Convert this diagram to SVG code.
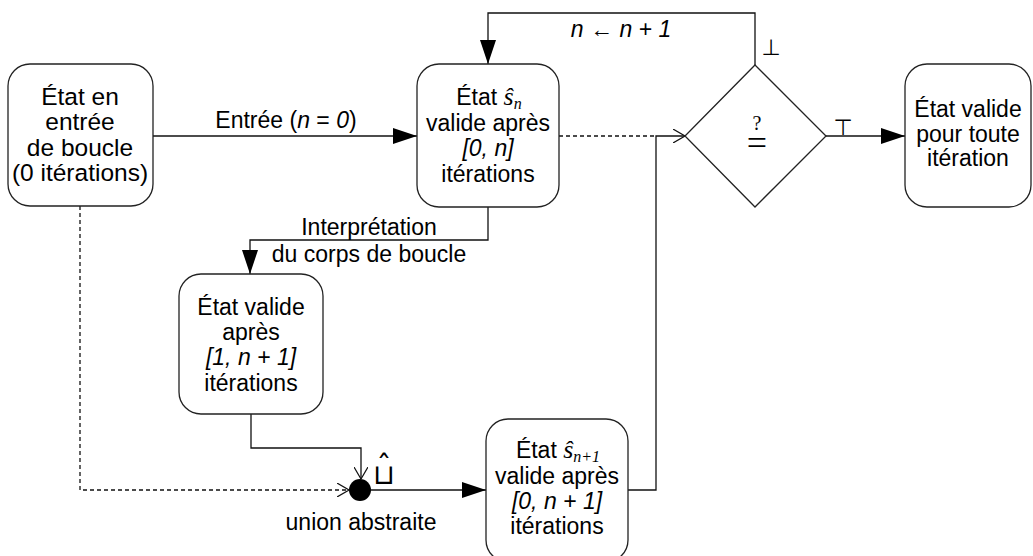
<svg xmlns="http://www.w3.org/2000/svg" width="1033" height="556" viewBox="0 0 1033 556">
<style>
.box{fill:#fff;stroke:#222;stroke-width:1.3}
.t{font-family:"Liberation Sans",Arial,sans-serif;font-size:23px;fill:#000;text-anchor:middle}
.big{font-size:24.5px}
.it{font-style:italic}
.m{font-family:"Liberation Serif","Times New Roman",serif;font-style:italic;font-size:26px}
.sub{font-family:"Liberation Serif","Times New Roman",serif;font-style:italic;font-size:16px}
.ln{fill:none;stroke:#111;stroke-width:1.3}
.dash{fill:none;stroke:#111;stroke-width:1.3;stroke-dasharray:4 3}
.sym{font-family:"DejaVu Sans",sans-serif;fill:#000;text-anchor:middle}
</style>
<defs>
<marker id="fa" viewBox="0 0 24 16" refX="24" refY="8" markerWidth="24" markerHeight="16" markerUnits="userSpaceOnUse" orient="auto">
<path d="M0,0 L24,8 L0,16 Z" fill="#000"/>
</marker>
<marker id="oa" viewBox="0 0 12 14" refX="12" refY="7" markerWidth="12" markerHeight="14" markerUnits="userSpaceOnUse" orient="auto">
<path d="M0,0 L12,7 L0,14" fill="none" stroke="#111" stroke-width="1.2"/>
</marker>
</defs>

<g id="connectors">
<path class="ln" d="M152,136 H417" marker-end="url(#fa)"/>
<path class="dash" d="M559,136 H656"/>
<path class="ln" d="M627,490 H656 V136 H685" marker-end="url(#oa)"/>
<path class="ln" d="M755,65 V13 H488 V64" marker-end="url(#fa)"/>
<path class="ln" d="M826,136 H905" marker-end="url(#fa)"/>
<path class="ln" d="M488,207 V240 H250 V274" marker-end="url(#fa)"/>
<path class="ln" d="M251,414 V448 H361 V479" marker-end="url(#oa)"/>
<path class="dash" d="M80,206 V490 H349" marker-end="url(#oa)"/>
<path class="ln" d="M371,490 H486" marker-end="url(#fa)"/>
<text class="t" x="286" y="128">Entrée (<tspan class="it">n</tspan> = <tspan class="it">0</tspan>)</text>
<text class="t it" x="621" y="37" font-size="22">n ← n + 1</text>
<text class="t" x="369" y="235">Interprétation</text>
<text class="t" x="369" y="262">du corps de boucle</text>
<text class="sym" x="771" y="55" font-size="22">⊥</text>
<text class="sym" x="843" y="135" font-size="22">⊤</text>
</g>

<g id="n1">
<rect class="box" x="8" y="64" width="145" height="142" rx="22"/>
<text class="t big" x="80" y="105">État en</text>
<text class="t big" x="80" y="130">entrée</text>
<text class="t big" x="80" y="156">de boucle</text>
<text class="t big" x="80" y="181">(0 itérations)</text>
</g>

<g id="n2">
<rect class="box" x="417" y="64" width="142" height="143" rx="22"/>
<text class="t" x="489" y="105">État <tspan class="m">ŝ</tspan><tspan class="sub" dy="4">n</tspan></text>
<text class="t" x="488" y="131">valide après</text>
<text class="t it" x="488" y="156">[0, n]</text>
<text class="t" x="488" y="182">itérations</text>
</g>

<g id="decision">
<path class="box" d="M755,65 L826,136 L755,207 L685,136 Z"/>
<text x="757" y="130" font-family="Liberation Serif, serif" font-size="20" text-anchor="middle">?</text>
<text x="757" y="155" font-family="Liberation Serif, serif" font-size="36" text-anchor="middle">=</text>
</g>

<g id="n4">
<rect class="box" x="905" y="64" width="126" height="143" rx="22"/>
<text class="t" x="968" y="117">État valide</text>
<text class="t" x="968" y="142">pour toute</text>
<text class="t" x="968" y="166">itération</text>
</g>

<g id="n3">
<rect class="box" x="179" y="274" width="144" height="140" rx="22"/>
<text class="t" x="251" y="315">État valide</text>
<text class="t" x="251" y="340">après</text>
<text class="t it" x="251" y="365">[1, n + 1]</text>
<text class="t" x="251" y="391">itérations</text>
</g>

<g id="union">
<circle cx="360" cy="490" r="11" fill="#000"/>
<text class="sym" x="384" y="484" font-size="28">⊔</text>
<text class="sym" x="384" y="477" font-size="30">ˆ</text>
<text class="t" x="361" y="530">union abstraite</text>
</g>

<g id="n5">
<rect class="box" x="486" y="419" width="142" height="143" rx="22"/>
<text class="t" x="558" y="458">État <tspan class="m">ŝ</tspan><tspan class="sub" dy="4">n+1</tspan></text>
<text class="t" x="557" y="484">valide après</text>
<text class="t it" x="557" y="509">[0, n + 1]</text>
<text class="t" x="557" y="534">itérations</text>
</g>
</svg>
